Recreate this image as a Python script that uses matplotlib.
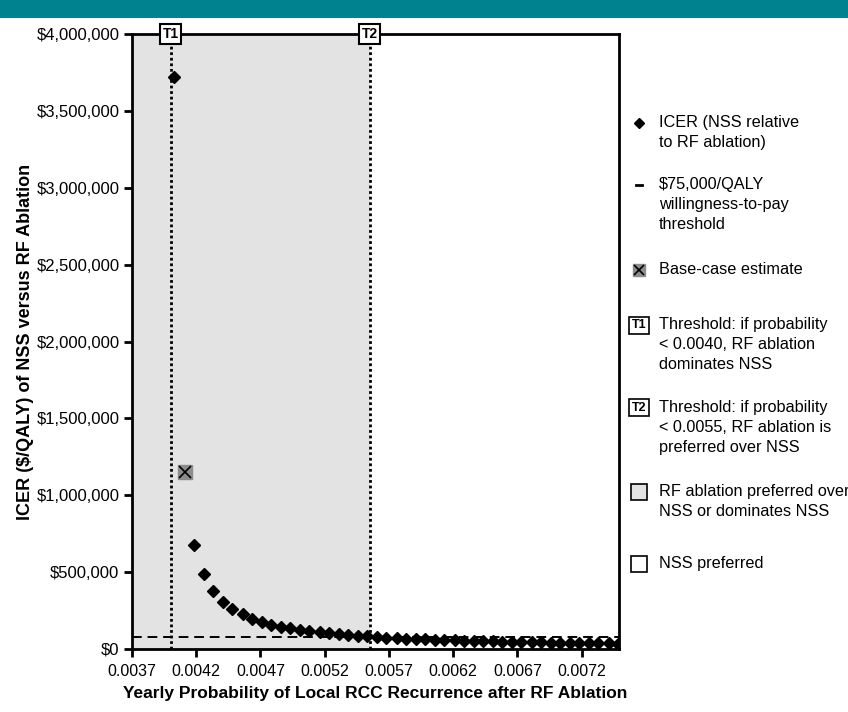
import matplotlib
matplotlib.use("Agg")
import matplotlib.pyplot as plt
from matplotlib.lines import Line2D
from matplotlib.patches import Rectangle
from matplotlib.ticker import FuncFormatter

plt.rcParams["font.family"] = ["Liberation Sans", "DejaVu Sans"]

# Yearly probability of local RCC recurrence after RF ablation
prob = [0.00403, 0.00418, 0.00426, 0.00433, 0.00441, 0.00448, 0.00456,
        0.00463, 0.00471, 0.00478, 0.00486, 0.00493, 0.00501, 0.00508,
        0.00516, 0.00523, 0.00531, 0.00538, 0.00546, 0.00553, 0.00561,
        0.00568, 0.00576, 0.00583, 0.00591, 0.00598, 0.00606, 0.00613,
        0.00621, 0.00628, 0.00636, 0.00643, 0.00651, 0.00658, 0.00666,
        0.00673, 0.00681, 0.00688, 0.00696, 0.00703, 0.00711, 0.00718,
        0.00726, 0.00733, 0.00741, 0.00748]
# ICER ($/QALY) of NSS versus RF ablation
icer = [3720000, 676000, 488000, 377000, 306000, 260000, 228000,
        195000, 176000, 156000, 143000, 137000, 124000, 117000,
        111000, 105000, 100000, 91000, 85000, 82000, 78000,
        73000, 70000, 67000, 64000, 62000, 60000, 58000,
        56000, 54000, 52000, 51000, 49000, 48000, 46000,
        45000, 44000, 43000, 42000, 41000, 40000, 39000,
        38000, 37000, 36000, 35000]

base_prob = 0.00411
base_icer = 1150000
wtp = 75000
t1 = 0.0040
t2 = 0.00555
xmin, xmax = 0.0037, 0.00749
xticks = [0.0037, 0.0042, 0.0047, 0.0052, 0.0057, 0.0062, 0.0067, 0.0072]
yticks = [0, 500000, 1000000, 1500000, 2000000, 2500000, 3000000, 3500000, 4000000]

legend_items = [
    ("diamond", "ICER (NSS relative\nto RF ablation)"),
    ("dash", "$75,000/QALY\nwillingness-to-pay\nthreshold"),
    ("base", "Base-case estimate"),
    ("T1", "Threshold: if probability\n< 0.0040, RF ablation\ndominates NSS"),
    ("T2", "Threshold: if probability\n< 0.0055, RF ablation is\npreferred over NSS"),
    ("gray", "RF ablation preferred over\nNSS or dominates NSS"),
    ("white", "NSS preferred"),
]

W, H = 848, 712
fig = plt.figure(figsize=(W / 100, H / 100), dpi=100)
fig.add_artist(Rectangle((0, 1 - 18 / H), 1, 18 / H, transform=fig.transFigure,
                         color="#00838f", lw=0))

ax = fig.add_axes([132 / W, 1 - 649 / H, (619 - 132) / W, (649 - 34) / H])
ax.set_xlim(xmin, xmax)
ax.set_ylim(0, 4000000)

ax.axvspan(xmin, t2, color="#e3e3e3", lw=0, zorder=0)
ax.axvline(t1, color="black", ls=(0, (1, 1)), lw=2, zorder=1)
ax.axvline(t2, color="black", ls=(0, (1, 1)), lw=2, zorder=1)
ax.axhline(wtp, color="black", ls=(0, (5, 3)), lw=1.4, zorder=1)

ax.plot(prob, icer, ls="none", marker="D", ms=6, color="black", zorder=3)
ax.plot([base_prob], [base_icer], ls="none", marker="s", ms=10,
        mfc="#8c8c8c", mec="#8c8c8c", zorder=4)
ax.plot([base_prob], [base_icer], ls="none", marker="x", ms=8,
        color="black", mew=1.2, zorder=5)

for t, lab in [(t1, "T1"), (t2, "T2")]:
    ax.text(t, 1.0, lab, transform=ax.get_xaxis_transform(), ha="center",
            va="center", fontsize=10, fontweight="bold", zorder=6, clip_on=False,
            bbox=dict(boxstyle="square,pad=0.2", fc="white", ec="black", lw=1.5))

for s in ax.spines.values():
    s.set_linewidth(2)
ax.set_xticks(xticks)
ax.set_yticks(yticks)
ax.xaxis.set_major_formatter(FuncFormatter(lambda v, p: f"{v:.4f}"))
ax.yaxis.set_major_formatter(FuncFormatter(lambda v, p: f"${v:,.0f}"))
ax.tick_params(axis="both", direction="out", length=6, width=2)
ax.tick_params(axis="x", pad=5, labelsize=11.5)
ax.tick_params(axis="y", pad=3, labelsize=12)

ax.set_xlabel("Yearly Probability of Local RCC Recurrence after RF Ablation",
              fontsize=12.5, fontweight="bold", labelpad=5)
ax.set_ylabel("ICER ($/QALY) of NSS versus RF Ablation",
              fontsize=13, fontweight="bold", labelpad=2)

# legend drawn at figure coordinates
ys = [123, 185, 270, 325, 408, 492, 564]
mx, tx = 639 / W, 659 / W
for (kind, txt), ypx in zip(legend_items, ys):
    y = 1 - ypx / H
    if kind == "diamond":
        fig.add_artist(Line2D([mx], [y], marker="D", ms=5, color="black",
                              transform=fig.transFigure))
    elif kind == "dash":
        fig.add_artist(Line2D([mx - 3 / W, mx + 3 / W], [y, y], color="black",
                              lw=2, transform=fig.transFigure))
    elif kind == "base":
        fig.add_artist(Line2D([mx], [y], marker="s", ms=9, mfc="#8c8c8c",
                              mec="#8c8c8c", ls="none", transform=fig.transFigure))
        fig.add_artist(Line2D([mx], [y], marker="x", ms=7, color="black",
                              mew=1.2, ls="none", transform=fig.transFigure))
    elif kind in ("T1", "T2"):
        fig.text(mx, y, kind, ha="center", va="center", fontsize=9,
                 fontweight="bold",
                 bbox=dict(boxstyle="square,pad=0.2", fc="white", ec="black", lw=1.2))
    else:
        fc = "#e3e3e3" if kind == "gray" else "white"
        fig.add_artist(Line2D([mx], [y], marker="s", ms=11, mfc=fc, mec="black",
                              mew=1.2, ls="none", transform=fig.transFigure))
    fig.text(tx, y + 8 / H, txt, ha="left", va="top", fontsize=11.7,
             linespacing=1.4)

fig.savefig("out.png", dpi=100)
